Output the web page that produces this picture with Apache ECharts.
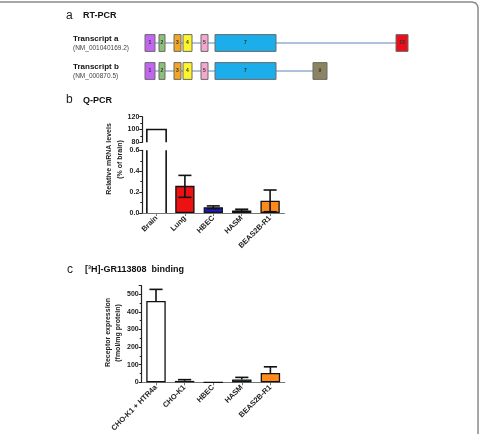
<!DOCTYPE html>
<html><head><meta charset="utf-8">
<script src="https://cdn.jsdelivr.net/npm/echarts@6/dist/echarts.min.js"></script>
<style>html,body{margin:0;padding:0;background:#fff}#c{width:480px;height:434px}</style>
</head><body><div id="c"></div>
<script>
// ---- Panel a: transcript structure (diagram units) ----
const transcriptNames = ['Transcript a', 'Transcript b'];
const transcriptIds = ['(NM_001040169.2)', '(NM_000870.5)'];
const exonLabelsA = ['1', '2', '3', '4', '5', '7', '13'];
const exonStartA = [0, 14, 29, 38, 56, 70, 251];
const exonEndA = [10, 20, 36, 47, 63, 131, 263];
const exonLabelsB = ['1', '2', '3', '4', '5', '7', '9'];
const exonStartB = [0, 14, 29, 38, 56, 70, 168];
const exonEndB = [10, 20, 36, 47, 63, 131, 182];

// ---- Panel b: Q-PCR ----
const qpcrCategories = ['Brain', 'Lung', 'HBEC', 'HASM', 'BEAS2B-R1'];
const qpcrMean = [100, 0.26, 0.055, 0.025, 0.118];
const qpcrLow = [null, 0.15, 0.042, 0.016, 0.012];
const qpcrHigh = [null, 0.36, 0.068, 0.036, 0.22];
const qpcrUpperTicks = [80, 100, 120];
const qpcrLowerTicks = [0, 0.2, 0.4, 0.6];

// ---- Panel c: binding ----
const bindCategories = ['CHO-K1 + HTR4a', 'CHO-K1', 'HBEC', 'HASM', 'BEAS2B-R1'];
const bindMean = [462, 8, 0, 16, 53];
const bindHigh = [528, 15, 0, 28, 88];
const bindTicks = [0, 100, 200, 300, 400, 500];
const bindAxisMax = 550;

// ---- styles ----
const barColors = ['#ffffff', '#ee1111', '#1a1ac8', '#2e9e2e', '#ff8a1c'];
const exonColors = { '1': '#c266f2', '2': '#8cc07a', '3': '#f2a623', '4': '#fbf52a', '5': '#f5a8cf', '7': '#1caeea', '13': '#e8101a', '9': '#8c8460' };
const FONT = 'Liberation Sans, Arial, Helvetica, sans-serif';
const BAR_RATIO = 0.68;
const CAP_RATIO = 0.46;

const exonItems = [];
exonLabelsA.forEach((l, i) => exonItems.push({ label: l, start: exonStartA[i], end: exonEndA[i], row: 0 }));
exonLabelsB.forEach((l, i) => exonItems.push({ label: l, start: exonStartB[i], end: exonEndB[i], row: 1 }));
const intronItems = [
  [Math.min(...exonStartA), Math.max(...exonEndA), 0],
  [Math.min(...exonStartB), Math.max(...exonEndB), 1]
];

const chart = echarts.init(document.getElementById('c'), null, { renderer: 'canvas' });

function brainOutline(params, api) {
  const i = api.value(0), v = api.value(1);
  const w = api.size([1, 0])[0] * BAR_RATIO;
  const base = api.coord([i, 0]);
  const top = api.coord([i, v]);
  const l = base[0] - w / 2, r = base[0] + w / 2;
  return {
    type: 'polyline',
    shape: { points: [[l, base[1]], [l, top[1]], [r, top[1]], [r, base[1]]] },
    style: { stroke: '#111', lineWidth: 1.6, fill: null }
  };
}
function errorBars(both) {
  return function (params, api) {
    const i = api.value(0), lo = api.value(1), hi = api.value(2);
    const a = api.coord([i, lo]), b = api.coord([i, hi]);
    const cw = api.size([1, 0])[0] * CAP_RATIO / 2;
    const st = { stroke: '#111', lineWidth: 1.6 };
    const ch = [
      { type: 'line', shape: { x1: a[0], y1: a[1], x2: b[0], y2: b[1] }, style: st },
      { type: 'line', shape: { x1: b[0] - cw, y1: b[1], x2: b[0] + cw, y2: b[1] }, style: st }
    ];
    if (both) ch.push({ type: 'line', shape: { x1: a[0] - cw, y1: a[1], x2: a[0] + cw, y2: a[1] }, style: st });
    return { type: 'group', children: ch };
  };
}
function exonBox(params, api) {
  const it = exonItems[params.dataIndex];
  const s = api.coord([api.value(0), api.value(2)]);
  const e = api.coord([api.value(1), api.value(2)]);
  const h = api.size([0, 1])[1] * 0.6;
  return {
    type: 'group', children: [
      { type: 'rect', shape: { x: s[0], y: s[1] - h / 2, width: e[0] - s[0], height: h },
        style: { fill: exonColors[it.label], stroke: '#6a6a6a', lineWidth: 1 } },
      { type: 'text', style: { x: (s[0] + e[0]) / 2, y: s[1], text: it.label, align: 'center', verticalAlign: 'middle',
        font: 'bold 5px ' + FONT, fill: '#333' } }
    ]
  };
}
function intronLine(params, api) {
  const s = api.coord([api.value(0), api.value(2)]);
  const e = api.coord([api.value(1), api.value(2)]);
  return { type: 'line', shape: { x1: s[0], y1: s[1], x2: e[0], y2: e[1] }, style: { stroke: '#5f86bd', lineWidth: 1 } };
}

const axisLbl = { fontFamily: FONT, fontWeight: 'bold', fontSize: 7, color: '#222' };
function yAxisCommon(gi, min, max, interval, fmt) {
  return {
    type: 'value', gridIndex: gi, min: min, max: max, interval: interval,
    axisLine: { show: true, lineStyle: { color: '#222', width: 1.2 } },
    axisTick: { show: true, length: 3, lineStyle: { color: '#222', width: 1 } },
    minorTick: { show: true, splitNumber: 2, length: 2, lineStyle: { color: '#222', width: 1 } },
    splitLine: { show: false },
    axisLabel: Object.assign({ margin: 3, formatter: fmt, showMaxLabel: gi === 2 ? false : true }, axisLbl)
  };
}
function xAxisCat(gi, cats, show) {
  return {
    type: 'category', gridIndex: gi, data: cats, show: show,
    axisLine: { show: true, lineStyle: { color: '#777', width: 1.2 } },
    axisTick: { show: true, alignWithLabel: true, length: 3, lineStyle: { color: '#777' } },
    axisLabel: Object.assign({ rotate: 45, margin: 4, interval: 0 }, axisLbl, { fontSize: 7.5 })
  };
}

const option = {
  animation: false,
  backgroundColor: '#fff',
  grid: [
    { left: 142.3, top: 150.3, width: 142, height: 62.7, outerBoundsMode: 'none' },
    { left: 142.3, top: 116.7, width: 142, height: 25.6, outerBoundsMode: 'none' },
    { left: 141.7, top: 285.5, width: 143, height: 96.8, outerBoundsMode: 'none' },
    { left: 145, top: 29, width: 263, height: 56, outerBoundsMode: 'none' }
  ],
  xAxis: [
    xAxisCat(0, qpcrCategories, true),
    xAxisCat(1, qpcrCategories, false),
    xAxisCat(2, bindCategories, true),
    { type: 'value', gridIndex: 3, min: 0, max: 263, show: false }
  ],
  yAxis: [
    yAxisCommon(0, qpcrLowerTicks[0], qpcrLowerTicks[qpcrLowerTicks.length - 1], qpcrLowerTicks[1] - qpcrLowerTicks[0], v => v.toFixed(1)),
    yAxisCommon(1, qpcrUpperTicks[0], qpcrUpperTicks[qpcrUpperTicks.length - 1], qpcrUpperTicks[1] - qpcrUpperTicks[0], v => String(v)),
    yAxisCommon(2, bindTicks[0], bindAxisMax, bindTicks[1] - bindTicks[0], v => (bindTicks.indexOf(v) >= 0 ? String(v) : '')),
    {
      type: 'category', gridIndex: 3, data: transcriptNames, inverse: true,
      axisLine: { show: false }, axisTick: { show: false }, splitLine: { show: false },
      axisLabel: {
        align: 'left', margin: 72,
        formatter: (v, i) => '{n|' + v + '}\n{id|' + transcriptIds[i] + '}',
        rich: {
          n: { fontFamily: FONT, fontWeight: 'bold', fontSize: 8, color: '#111', lineHeight: 9.5 },
          id: { fontFamily: FONT, fontSize: 6.5, color: '#444', lineHeight: 9 }
        }
      }
    }
  ],
  series: [
    // panel b, lower grid
    { type: 'bar', xAxisIndex: 0, yAxisIndex: 0, barWidth: (BAR_RATIO * 100) + '%',
      data: qpcrMean.map((v, i) => i === 0 ? '-' : { value: v, itemStyle: { color: barColors[i] } }),
      itemStyle: { borderColor: '#111', borderWidth: 1.3 }, z: 2 },
    { type: 'custom', xAxisIndex: 0, yAxisIndex: 0, clip: true, renderItem: brainOutline,
      data: [[0, qpcrMean[0]]], z: 3 },
    { type: 'custom', xAxisIndex: 0, yAxisIndex: 0, renderItem: errorBars(true),
      data: qpcrMean.map((v, i) => [i, qpcrLow[i], qpcrHigh[i]]).filter(d => d[1] !== null), z: 4 },
    // panel b, upper grid
    { type: 'custom', xAxisIndex: 1, yAxisIndex: 1, clip: true, renderItem: brainOutline,
      data: [[0, qpcrMean[0]]], z: 3 },
    // panel c
    { type: 'bar', xAxisIndex: 2, yAxisIndex: 2, barWidth: (BAR_RATIO * 100) + '%',
      data: bindMean.map((v, i) => ({ value: v, itemStyle: { color: barColors[i] } })),
      itemStyle: { borderColor: '#111', borderWidth: 1.3 }, z: 2 },
    { type: 'custom', xAxisIndex: 2, yAxisIndex: 2, renderItem: errorBars(false),
      data: bindMean.map((v, i) => [i, v, bindHigh[i]]).filter(d => d[2] > d[1]), z: 4 },
    // panel a
    { type: 'custom', xAxisIndex: 3, yAxisIndex: 3, renderItem: intronLine, data: intronItems, z: 1 },
    { type: 'custom', xAxisIndex: 3, yAxisIndex: 3, renderItem: exonBox,
      data: exonItems.map(e => [e.start, e.end, e.row]), z: 2 }
  ],
  graphic: [
    { type: 'polyline', shape: { points: [[0, 2], [472, 2], [475.5, 3], [477.5, 5.5], [478, 8], [478, 434]] },
      style: { stroke: '#8a8a8a', lineWidth: 1.5, fill: null } },
    { type: 'text', style: { x: 66, y: 16, text: 'a', font: '12px ' + FONT, fill: '#222', verticalAlign: 'middle' } },
    { type: 'text', style: { x: 83, y: 16, text: 'RT-PCR', font: 'bold 9px ' + FONT, fill: '#111', verticalAlign: 'middle' } },
    { type: 'text', style: { x: 66, y: 100, text: 'b', font: '12px ' + FONT, fill: '#222', verticalAlign: 'middle' } },
    { type: 'text', style: { x: 83, y: 100.5, text: 'Q-PCR', font: 'bold 9px ' + FONT, fill: '#111', verticalAlign: 'middle' } },
    { type: 'text', style: { x: 67, y: 270, text: 'c', font: '12px ' + FONT, fill: '#222', verticalAlign: 'middle' } },
    { type: 'text', style: { x: 85, y: 270, text: '[³H]-GR113808  binding', font: 'bold 9px ' + FONT, fill: '#111', verticalAlign: 'middle' } },
    { type: 'text', x: 109, y: 159, rotation: Math.PI / 2,
      style: { x: 0, y: 0, text: 'Relative mRNA levels', font: 'bold 7px ' + FONT, fill: '#222', align: 'center', verticalAlign: 'middle' } },
    { type: 'text', x: 120.5, y: 159.5, rotation: Math.PI / 2,
      style: { x: 0, y: 0, text: '(% of brain)', font: 'bold 7px ' + FONT, fill: '#222', align: 'center', verticalAlign: 'middle' } },
    { type: 'text', x: 108, y: 332.5, rotation: Math.PI / 2,
      style: { x: 0, y: 0, text: 'Receptor expression', font: 'bold 7px ' + FONT, fill: '#222', align: 'center', verticalAlign: 'middle' } },
    { type: 'text', x: 118.5, y: 333, rotation: Math.PI / 2,
      style: { x: 0, y: 0, text: '(fmol/mg protein)', font: 'bold 7px ' + FONT, fill: '#222', align: 'center', verticalAlign: 'middle' } }
  ]
};
chart.setOption(option);
</script>
</body></html>
